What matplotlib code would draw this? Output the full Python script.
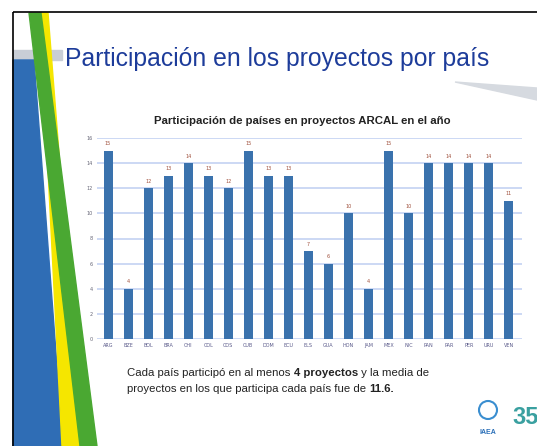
import matplotlib
matplotlib.use("Agg")
import matplotlib.pyplot as plt
from matplotlib.patches import Polygon, Rectangle, Circle

# data
countries = ["ARG", "BZE", "BOL", "BRA", "CHI", "COL", "COS", "CUB", "DOM", "ECU",
             "ELS", "GUA", "HON", "JAM", "MEX", "NIC", "PAN", "PAR", "PER", "URU", "VEN"]
projects = [15, 4, 12, 13, 14, 13, 12, 15, 13, 13,
            7, 6, 10, 4, 15, 10, 14, 14, 14, 14, 11]
yticks = [0, 2, 4, 6, 8, 10, 12, 14, 16]

W, H = 537, 446
fig = plt.figure(figsize=(W / 100, H / 100), dpi=100)
fig.patch.set_facecolor("white")

# background layer in pixel coords for the slide decoration
bg = fig.add_axes([0, 0, 1, 1])
bg.set_xlim(0, W)
bg.set_ylim(H, 0)
bg.axis("off")

bg.add_patch(Rectangle((13, 12), W, H, fill=False, ec="black", lw=1.2, zorder=5))
bg.add_patch(Polygon([(13, 50), (62, 50), (62, 60), (13, 60)], color="#c9ced6", zorder=1))
bg.add_patch(Polygon([(13, 60), (34, 60), (63, 446), (13, 446)], color="#2f6db5", zorder=1))
bg.add_patch(Polygon([(40, 13), (48, 13), (82, 446), (62, 446)], color="#f5e600", zorder=2))
bg.add_patch(Polygon([(29, 13), (41, 13), (97, 446), (80, 446)], color="#4aa832", zorder=3))
bg.add_patch(Polygon([(455, 82), (537, 88), (537, 100)], color="#d6dae0", zorder=1))

bg.text(65, 59, "Participación en los proyectos por país", fontsize=17.8,
        family="Liberation Sans", color="#1d3c9a", va="center", ha="left", zorder=6)

bg.text(302, 121, "Participación de países en proyectos ARCAL en el año",
        fontsize=8.2, fontweight="bold", family="Liberation Sans", color="#222222",
        ha="center", va="center")

# footnote, with bold bits
line1 = [("Cada país participó en al menos ", "normal"), ("4 proyectos", "bold"),
         (" y la media de", "normal")]
line2 = [("proyectos en los que participa cada país fue de ", "normal"), ("11.6.", "bold")]
fig.canvas.draw()
r = fig.canvas.get_renderer()
for yy, parts in [(373, line1), (389, line2)]:
    x = 127
    for s, w in parts:
        tx = bg.text(x, yy, s, fontsize=8.2, fontweight=w, family="Liberation Sans",
                     color="#222222", va="center", ha="left")
        x += tx.get_window_extent(renderer=r).width

# logos (rough)
bg.add_patch(Circle((488, 410), 9, fill=False, ec="#3a8ed0", lw=1.5))
bg.text(488, 432, "IAEA", fontsize=5, fontweight="bold", color="#2a6fb8",
        ha="center", va="center", family="Liberation Sans")
bg.text(512, 417, "35", fontsize=17, fontweight="bold", color="#3aa0a0",
        ha="left", va="center", family="Liberation Sans")

# chart
ax = fig.add_axes([97 / W, 1 - 339 / H, 425 / W, 201 / H])
ax.patch.set_alpha(0)
x = list(range(len(countries)))
ax.bar(x, projects, width=0.45, color="#3a72ad", zorder=3)
for xi, v in zip(x, projects):
    ax.text(xi, v + 0.35, str(v), ha="center", va="bottom", fontsize=3.5,
            color="#a0503c")
ax.set_xlim(-0.55, 20.65)
ax.set_ylim(0, 16)
ax.set_yticks(yticks)
ax.set_yticklabels([str(v) for v in yticks], fontsize=3.5, color="#666677")
ax.set_xticks(x)
ax.set_xticklabels(countries, fontsize=3.5, color="#5a5a8a")
ax.grid(axis="y", color="#c3d2f2", lw=1.2, zorder=0)
ax.tick_params(length=0, pad=3)
for s in ax.spines.values():
    s.set_visible(False)

fig.savefig("out.png", dpi=100)
